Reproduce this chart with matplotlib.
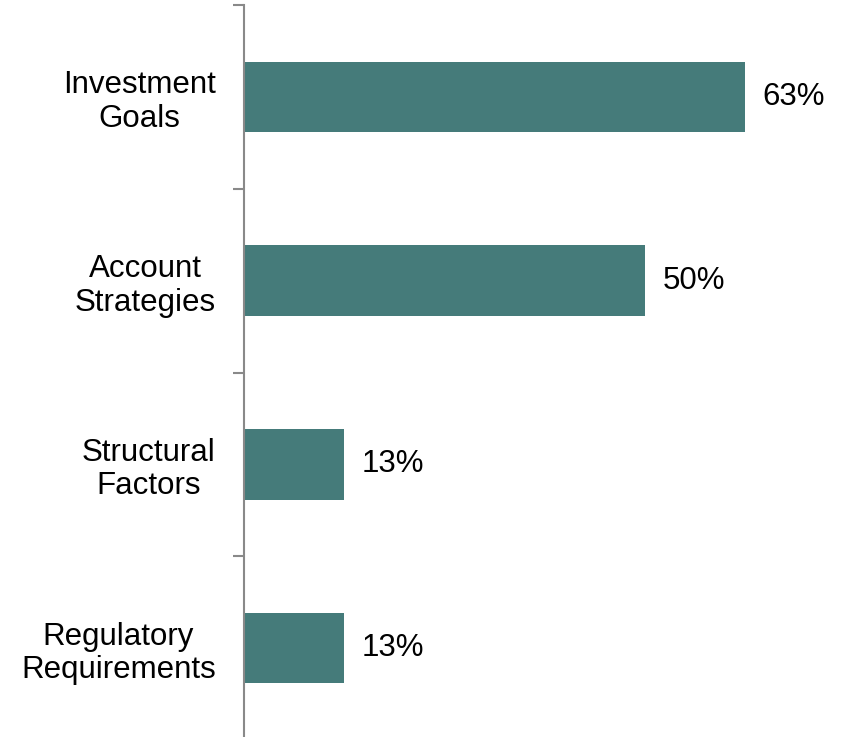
import matplotlib
matplotlib.use("Agg")
import matplotlib.pyplot as plt

categories = ["Investment\nGoals", "Account\nStrategies", "Structural\nFactors", "Regulatory\nRequirements"]
values = [0.625, 0.50, 0.125, 0.125]
value_labels = ["63%", "50%", "13%", "13%"]

plt.rcParams['font.family'] = ['Liberation Sans', 'DejaVu Sans']

fig = plt.figure(figsize=(8.42, 7.37), dpi=100)
ax = fig.add_axes([243.5/842, -3/737, 602/842, 735/737])

ypos = list(range(len(categories)))
ax.barh(ypos, values, height=0.385, color='#457B7A', zorder=2)
ax.set_ylim(len(categories) - 0.5, -0.5)
ax.set_xlim(0, 0.75)

for y, v, lab in zip(ypos, values, value_labels):
    ax.text(v + 0.022, y, lab, va='center', ha='left', fontsize=22.5, color='black')

ax.set_yticks(ypos)
ax.set_yticklabels(categories, fontsize=22.5, linespacing=1.15, ha='right',
                   multialignment='center')
ax.tick_params(axis='y', length=0, pad=20)
ax.set_yticks([i - 0.5 for i in range(len(categories) + 1)], minor=True)
ax.tick_params(axis='y', which='minor', length=8, width=1.5, color='#898989', direction='out')
ax.set_xticks([])

for s in ['top', 'right', 'bottom']:
    ax.spines[s].set_visible(False)
ax.spines['left'].set_color('#898989')
ax.spines['left'].set_linewidth(1.5)

fig.savefig("out.png", dpi=100)
